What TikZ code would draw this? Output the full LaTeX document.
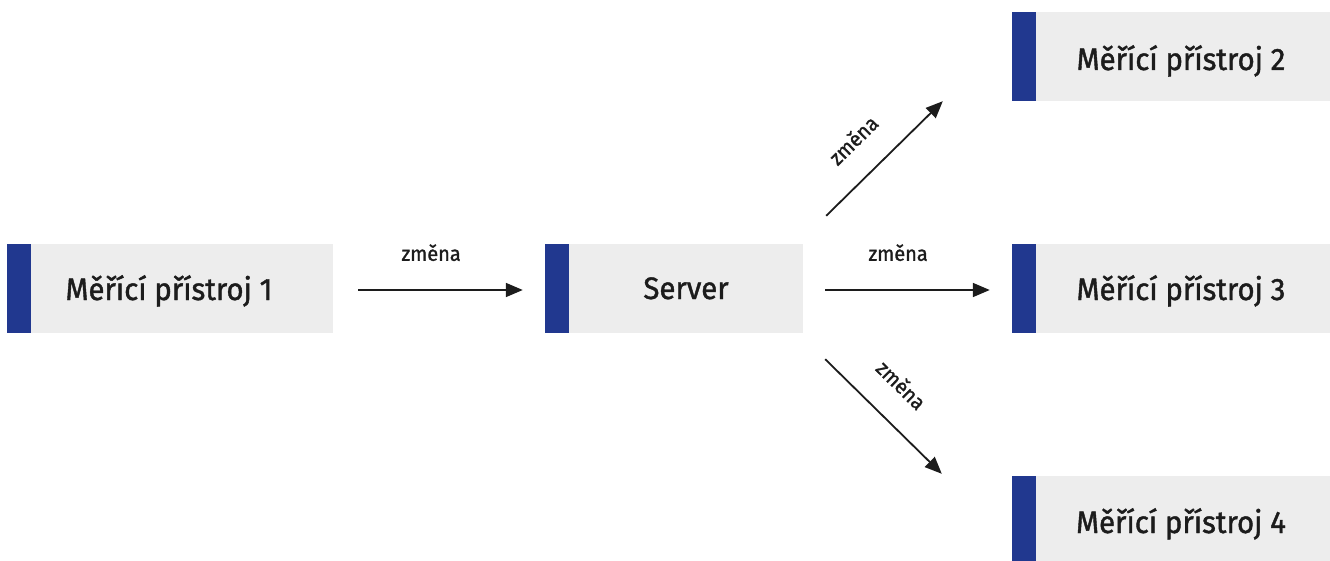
\documentclass[tikz,border=0pt]{standalone}
\usepackage{fontspec}
\setmainfont{Fira Sans}[FakeStretch=0.95, FakeBold=1.3]
\usetikzlibrary{arrows.meta,calc}
\definecolor{barblue}{RGB}{33,56,143}
\definecolor{boxgray}{RGB}{237,237,237}
\definecolor{txt}{RGB}{28,28,28}
\tikzset{
  box/.style={fill=boxgray, draw=none, inner sep=0pt, minimum height=89pt,
    path picture={\fill[barblue] (path picture bounding box.south west) rectangle ([xshift=24pt]path picture bounding box.north west);}},
  boxtext/.style={anchor=base, inner sep=0pt, text=txt, font=\fontsize{31}{34}\selectfont},
  flow/.style={draw=txt, line width=1.8pt, -{Triangle[length=17pt,width=14pt]}},
  lab/.style={text=txt, inner sep=0pt, font=\fontsize{21}{24}\selectfont},
}
\begin{document}
\begin{tikzpicture}[x=1pt,y=-1pt]
\useasboundingbox (0,0) rectangle (1330,561);
\node[box, minimum width=326pt] (m1) at (170,288.5) {};
\node[box, minimum width=258pt] (srv) at (674,288.5) {};
\node[box, minimum width=318pt] (m2) at (1171,56.5) {};
\node[box, minimum width=318pt] (m3) at (1171,288.5) {};
\node[box, minimum width=318pt] (m4) at (1171,520.5) {};
\node[boxtext] (t1) at (169,300) {Měřící přístroj 1};
\node[boxtext] (ts) at (686,299) {Server};
\node[boxtext] (t2) at (1181,70) {Měřící přístroj 2};
\node[boxtext] (t3) at (1181,300) {Měřící přístroj 3};
\node[boxtext] (t4) at (1181,533) {Měřící přístroj 4};
\coordinate (a1s) at ($(m1.east)+(25,1.5)$);
\coordinate (a1e) at ($(srv.west)+(-22,1.5)$);
\coordinate (a2s) at ($(srv.east)+(22,1.5)$);
\coordinate (a2e) at ($(m3.west)+(-22,1.5)$);
\coordinate (d1s) at ($(srv.north east)+(23,-28)$);
\coordinate (d1e) at ($(m2.south west)+(-69,0)$);
\coordinate (d2s) at ($(srv.south east)+(22,26)$);
\coordinate (d2e) at ($(m4.north west)+(-70,-2)$);
\draw[flow] (a1s) -- node[lab, pos=0.443, above=28pt] (l1) {změna} (a1e);
\draw[flow] (a2s) -- node[lab, pos=0.443, above=28pt] (l2) {změna} (a2e);
\draw[flow] (d1s) -- node[lab, pos=0.443, sloped, above=26pt] (l3) {změna} (d1e);
\draw[flow] (d2s) -- node[lab, pos=0.443, sloped, above=26pt] (l4) {změna} (d2e);
\end{tikzpicture}
\end{document}
